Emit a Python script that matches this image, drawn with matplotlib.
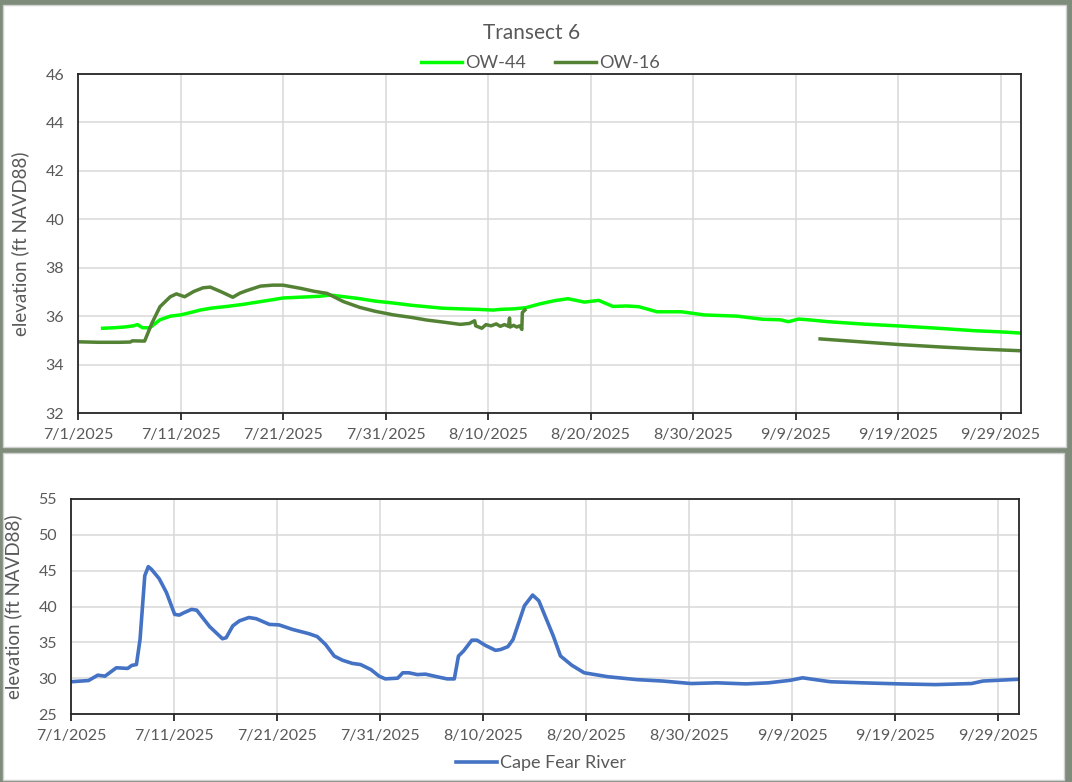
import matplotlib
matplotlib.use("Agg")
import matplotlib.pyplot as plt
import matplotlib.patches as mpatches
import numpy as np
import pandas as pd

# ---------------- data ----------------
start = pd.Timestamp("2025-07-01")

ow44_days = [2.4, 3.5, 4.5, 5.4, 5.8, 6.3, 7.0, 8.0, 9.0, 10.0, 11.0, 11.9, 13.0, 14.5, 16.0,
             17.8, 19.0, 20.0, 21.5, 22.6, 23.5, 24.6, 26.0, 27.5, 29.0, 30.8, 32.5, 34.0,
             35.5, 37.3, 39.0, 40.5, 41.2, 42.5, 43.7, 45.0, 46.5, 47.8, 48.6, 49.4, 50.8,
             52.2, 53.5, 54.7, 56.5, 58.9, 61.1, 64.3, 66.8, 68.5, 69.3, 70.3, 71.5, 73.2,
             76.7, 80.3, 83.9, 87.4, 90.0, 92.0]
ow44_vals = [35.5, 35.52, 35.55, 35.6, 35.65, 35.52, 35.52, 35.85, 36.0, 36.05, 36.15, 36.25,
             36.33, 36.4, 36.48, 36.6, 36.68, 36.75, 36.78, 36.8, 36.82, 36.87, 36.8, 36.72,
             36.62, 36.54, 36.45, 36.39, 36.33, 36.3, 36.28, 36.25, 36.28, 36.3, 36.35,
             36.5, 36.64, 36.72, 36.65, 36.58, 36.65, 36.4, 36.42, 36.39, 36.18, 36.18,
             36.05, 36.0, 35.87, 35.85, 35.77, 35.88, 35.84, 35.77, 35.67, 35.59, 35.5,
             35.4, 35.35, 35.3]

ow16_days = [0.0, 2.0, 4.0, 5.1, 5.3, 6.5, 7.2, 8.0, 9.0, 9.6, 10.4, 11.3, 12.2, 12.9,
             14.0, 15.1, 15.8, 16.5, 17.8, 19.0, 20.0, 21.7, 23.0, 24.3, 25.9, 27.5, 29.0,
             30.8, 32.5, 34.0, 35.7, 37.3, 38.2, 38.7, 38.8, 39.4, 39.8, 40.3, 40.8, 41.2,
             41.6, 42.0, 42.1, 42.15, 42.5, 42.8, 43.1, 43.3, 43.35, 43.6,
             43.7, 72.4, 76.0, 80.0, 84.0, 88.0, 92.0]
ow16_vals = [34.94, 34.92, 34.92, 34.93, 34.98, 34.97, 35.7, 36.39, 36.8, 36.92, 36.8,
             37.02, 37.17, 37.2, 37.0, 36.78, 36.95, 37.06, 37.24, 37.28, 37.28, 37.15,
             37.03, 36.94, 36.6, 36.36, 36.2, 36.05, 35.95, 35.84, 35.75, 35.66, 35.7,
             35.81, 35.6, 35.5, 35.65, 35.6, 35.68, 35.58, 35.65, 35.58, 35.92, 35.55,
             35.62, 35.55, 35.6, 35.45, 36.15, 36.25,
             np.nan, 35.06, 34.95, 34.83, 34.73, 34.64, 34.57]

river_days = [0.0, 1.7, 2.6, 3.3, 4.4, 5.5, 5.9, 6.35, 6.7, 7.16, 7.5, 7.8, 8.55, 9.26,
              10.06, 10.5, 11.0, 11.7, 12.2, 13.45, 14.7, 15.06, 15.7, 16.35, 17.26, 17.97,
              19.26, 20.2, 21.5, 23.1, 23.9, 24.7, 25.55, 26.35, 27.3, 28.1, 29.1, 29.9,
              30.5, 31.7, 32.2, 32.8, 33.6, 34.4, 35.7, 36.5, 37.2, 37.6, 38.1, 38.9, 39.4,
              40.2, 41.2, 41.7, 42.4, 42.9, 44.0, 44.8, 45.4, 46.8, 47.5, 48.6, 49.8, 52.1,
              54.9, 57.4, 60.2, 62.7, 65.5, 67.7, 69.8, 71.0, 72.2, 73.7, 76.8, 80.4, 83.9,
              87.4, 88.5, 92.0]
river_vals = [29.5, 29.67, 30.42, 30.28, 31.45, 31.36, 31.78, 31.9, 35.4, 44.3, 45.56,
              45.2, 43.9, 41.96, 38.9, 38.8, 39.16, 39.6, 39.49, 37.2, 35.5, 35.65, 37.3,
              38.0, 38.46, 38.3, 37.5, 37.43, 36.8, 36.2, 35.8, 34.7, 33.08, 32.5, 32.06,
              31.9, 31.2, 30.28, 29.9, 30.0, 30.75, 30.75, 30.5, 30.56, 30.14, 29.9, 29.9,
              33.08, 33.8, 35.3, 35.3, 34.58, 33.88, 34.0, 34.4, 35.4, 40.1, 41.6, 40.8,
              35.9, 33.1, 31.8, 30.75, 30.2, 29.8, 29.6, 29.25, 29.35, 29.2, 29.35, 29.7,
              30.05, 29.8, 29.5, 29.35, 29.2, 29.1, 29.25, 29.6, 29.85]

tick_labels = ["7/1/2025", "7/11/2025", "7/21/2025", "7/31/2025", "8/10/2025",
               "8/20/2025", "8/30/2025", "9/9/2025", "9/19/2025", "9/29/2025"]
top_yticks = [32, 34, 36, 38, 40, 42, 44, 46]
bot_yticks = [25, 30, 35, 40, 45, 50, 55]

# ---------------- style ----------------
plt.rcParams['font.family'] = ['Lato', 'DejaVu Sans']
TXT = '#595959'
GRID = '#d9d9d9'

def to_dates(days):
    return start + pd.to_timedelta(np.asarray(days, dtype=float), unit='D')

tick_pos = pd.to_datetime(tick_labels, format="%m/%d/%Y")
xmin, xmax = start, start + pd.Timedelta(days=92)

fig = plt.figure(figsize=(10.72, 7.82), dpi=100, facecolor='#7f8c7c')
# white chart panels
fig.patches.append(mpatches.Rectangle((3/1072, 1-447/782), 1063/1072, 442/782,
                   transform=fig.transFigure, facecolor='white', edgecolor='#d0d0d0', lw=1, zorder=-5))
fig.patches.append(mpatches.Rectangle((3/1072, 1-780/782), 1061/1072, 327/782,
                   transform=fig.transFigure, facecolor='white', edgecolor='#d0d0d0', lw=1, zorder=-5))

def style_axes(ax, yticks):
    ax.set_zorder(3)
    ax.set_facecolor('white')
    ax.set_xlim(xmin, xmax)
    ax.set_ylim(yticks[0], yticks[-1])
    ax.set_yticks(yticks)
    ax.set_xticks(tick_pos)
    ax.set_xticklabels(tick_labels)
    ax.grid(True, color=GRID, lw=1.1)
    ax.set_axisbelow(True)
    for s in ax.spines.values():
        s.set_color('#262626')
        s.set_linewidth(1.3)
    ax.tick_params(axis='x', length=5, width=1.3, color='#262626', labelcolor=TXT,
                   labelsize=11.5, pad=6)
    ax.tick_params(axis='y', length=0, labelcolor=TXT, labelsize=11.5, pad=10)
    ax.set_ylabel('elevation (ft NAVD88)', color=TXT, fontsize=13.5)

ax1 = fig.add_axes([78/1072, 1-413/782, 943/1072, 339/782])
style_axes(ax1, top_yticks)
ax1.plot(to_dates(ow44_days), ow44_vals, color='#00ff00', lw=2.5, label='OW-44')
ax1.plot(to_dates(ow16_days), ow16_vals, color='#548235', lw=2.5, label='OW-16')
ax1.yaxis.set_label_coords(-0.052, 0.5)
fig.text(532/1072, 1-33/782, 'Transect 6', ha='center', va='center', color=TXT, fontsize=15)
fig.legend(handles=ax1.get_lines(), loc='center', bbox_to_anchor=(540/1072, 1-63/782),
           ncol=2, frameon=False, fontsize=13, labelcolor=TXT, handlelength=2.3,
           handletextpad=0.15, columnspacing=1.6)

ax2 = fig.add_axes([71/1072, 1-714/782, 948/1072, 215/782])
style_axes(ax2, bot_yticks)
ax2.plot(to_dates(river_days), river_vals, color='#4472c4', lw=2.6, label='Cape Fear River')
ax2.yaxis.set_label_coords(-0.051, 0.5)
fig.legend(handles=ax2.get_lines(), loc='center', bbox_to_anchor=(541/1072, 1-763/782),
           ncol=1, frameon=False, fontsize=13, labelcolor=TXT, handlelength=2.3,
           handletextpad=0.15)

fig.savefig('out.png', dpi=100, facecolor=fig.get_facecolor())
